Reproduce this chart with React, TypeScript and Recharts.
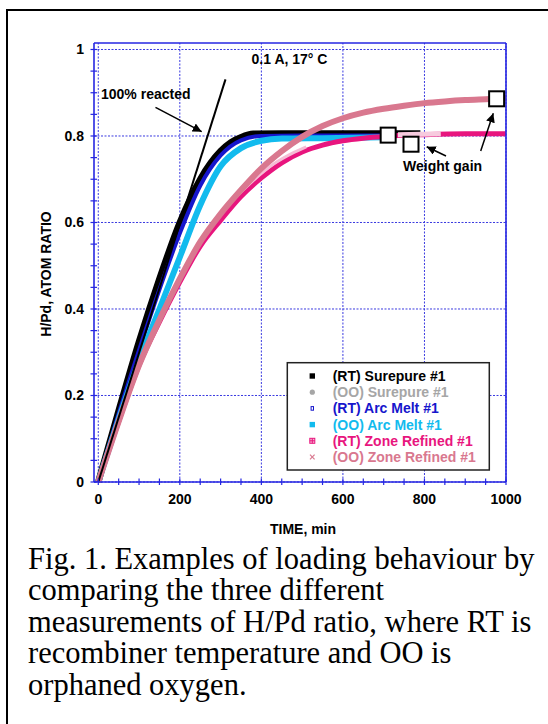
import { ComposedChart, Line, ReferenceLine, Scatter, XAxis, YAxis } from "recharts";

const AXIS = "#2626e2";
const GRID = "#3a3ae0";
const FONT = '"Liberation Sans", Arial, Helvetica, sans-serif';

// tick positions / labels
const xTicks = [0, 50, 100, 150, 200, 250, 300, 350, 400, 450, 500, 550, 600, 650, 700, 750, 800, 850, 900, 950, 1000];
const yTicks = [0, 0.05, 0.1, 0.15, 0.2, 0.25, 0.3, 0.35, 0.4, 0.45, 0.5, 0.55, 0.6, 0.65, 0.7, 0.75, 0.8, 0.85, 0.9, 0.95, 1];
const xLabels = [0, 200, 400, 600, 800, 1000];
const yLabels = [0, 0.2, 0.4, 0.6, 0.8, 1];

// TIME, min  /  H/Pd atom ratio
const rtSurepureTime = [0, 50, 100, 150, 200, 250, 300, 325, 350, 380, 450, 550, 650, 790];
const rtSurepureRatio = [0, 0.165, 0.325, 0.47, 0.6, 0.7, 0.765, 0.785, 0.797, 0.805, 0.806, 0.806, 0.806, 0.806];

const ooSurepureTime = [0, 50, 100, 150, 200, 250, 300, 350, 400, 500, 600, 700, 790];
const ooSurepureRatio = [0, 0.16, 0.315, 0.46, 0.59, 0.69, 0.758, 0.793, 0.802, 0.803, 0.803, 0.803, 0.803];

const rtArcMeltTime = [0, 50, 100, 150, 200, 250, 300, 350, 400, 500, 600, 700];
const rtArcMeltRatio = [0, 0.158, 0.305, 0.445, 0.575, 0.685, 0.755, 0.79, 0.8, 0.801, 0.801, 0.801];

const ooArcMeltTime = [0, 50, 100, 150, 200, 250, 300, 350, 400, 450, 550, 700];
const ooArcMeltRatio = [0, 0.145, 0.28, 0.4, 0.52, 0.64, 0.73, 0.772, 0.789, 0.794, 0.795, 0.797];

const rtZoneTime = [0, 50, 100, 150, 200, 250, 300, 350, 400, 450, 500, 550, 600, 650, 700, 800, 900, 1000];
const rtZoneRatio = [0, 0.14, 0.27, 0.37, 0.462, 0.545, 0.605, 0.66, 0.703, 0.738, 0.763, 0.779, 0.789, 0.795, 0.799, 0.803, 0.805, 0.805];

// lighter-looking stretches of the RT zone refined band
const rtZoneLightTime = [330, 380, 430, 480, 510];
const rtZoneLightRatio = [0.652, 0.697, 0.735, 0.762, 0.775];
const rtZoneLight2Time = [735, 790, 840];
const rtZoneLight2Ratio = [0.803, 0.804, 0.805];

const ooZoneTime = [0, 50, 100, 150, 200, 250, 300, 350, 400, 450, 500, 550, 600, 650, 700, 750, 800, 850, 900, 950, 1000];
const ooZoneRatio = [0, 0.14, 0.27, 0.375, 0.47, 0.555, 0.62, 0.675, 0.725, 0.765, 0.798, 0.823, 0.841, 0.854, 0.863, 0.87, 0.876, 0.88, 0.883, 0.885, 0.887];

const reactedTime = [0, 312];
const reactedRatio = [0, 0.931];

const weightGainTime = [711, 767, 977];
const weightGainRatio = [0.802, 0.781, 0.886];

const pts = (t: number[], r: number[]) => t.map((x, i) => ({ x, y: r[i] }));

const legendRows = [
  { label: "(RT) Surepure #1", color: "#000000", mark: "square" },
  { label: "(OO) Surepure #1", color: "#a6a6a6", mark: "circle" },
  { label: "(RT) Arc Melt #1", color: "#1616cc", mark: "hollow" },
  { label: "(OO) Arc Melt #1", color: "#12bbee", mark: "square" },
  { label: "(RT) Zone Refined #1", color: "#e8157e", mark: "grid" },
  { label: "(OO) Zone Refined #1", color: "#d9788f", mark: "cross" },
];

function BottomTick(props: any) {
  const { x, y, payload } = props;
  return (
    <g>
      <line x1={x} x2={x} y1={y - 3.5} y2={y + 3} stroke={AXIS} strokeWidth={1.2} />
      {xLabels.includes(payload.value) && (
        <text x={x} y={y + 21.5} textAnchor="middle" fontFamily={FONT} fontWeight="bold" fontSize={14} fill="#000">
          {payload.value}
        </text>
      )}
    </g>
  );
}

function TopTick(props: any) {
  const { x, y } = props;
  return <line x1={x} x2={x} y1={y - 3.5} y2={y + 3} stroke={AXIS} strokeWidth={1.2} />;
}

function LeftTick(props: any) {
  const { x, y, payload } = props;
  return (
    <g>
      <line x1={x - 3.5} x2={x + 3} y1={y} y2={y} stroke={AXIS} strokeWidth={1.2} />
      {yLabels.includes(payload.value) && (
        <text x={x - 10} y={y + 5} textAnchor="end" fontFamily={FONT} fontWeight="bold" fontSize={14} fill="#000">
          {payload.value}
        </text>
      )}
    </g>
  );
}

function RightTick(props: any) {
  const { x, y } = props;
  return <line x1={x - 3} x2={x + 3.5} y1={y} y2={y} stroke={AXIS} strokeWidth={1.2} />;
}

function WeightBox(props: any) {
  const { cx, cy } = props;
  return <rect x={cx - 7.5} y={cy - 7.5} width={15} height={15} fill="#fff" stroke="#000" strokeWidth={2} />;
}

function LegendMark({ mark, color, cx, cy }: { mark: string; color: string; cx: number; cy: number }) {
  if (mark === "circle") return <circle cx={cx} cy={cy} r={2.6} fill={color} />;
  if (mark === "hollow")
    return <rect x={cx - 1.2} y={cy - 1.8} width={2.4} height={3.6} fill="#fff" stroke={color} strokeWidth={1} />;
  if (mark === "grid")
    return (
      <g stroke={color} strokeWidth={1}>
        <rect x={cx - 2.5} y={cy - 2.5} width={5} height={5} fill="#f7b5d3" />
        <line x1={cx} x2={cx} y1={cy - 2.5} y2={cy + 2.5} />
        <line x1={cx - 2.5} x2={cx + 2.5} y1={cy} y2={cy} />
      </g>
    );
  if (mark === "cross")
    return (
      <g stroke={color} strokeWidth={1.2}>
        <line x1={cx - 2.3} x2={cx + 2.3} y1={cy - 2.3} y2={cy + 2.3} />
        <line x1={cx - 2.3} x2={cx + 2.3} y1={cy + 2.3} y2={cy - 2.3} />
      </g>
    );
  return <rect x={cx - 2.7} y={cy - 2.7} width={5.4} height={5.4} fill={color} />;
}

export default function App() {
  const bold = { fontFamily: FONT, fontWeight: "bold" as const, fontSize: 14 };
  return (
    <div style={{ position: "fixed", left: 0, top: 0, width: 548, height: 724, overflow: "hidden", background: "#fff" }}>
      <div style={{ position: "absolute", left: 6, top: 9, width: 600, height: 800, border: "2.5px solid #000" }} />
      <div style={{ position: "absolute", left: 0, top: 0 }}>
        <ComposedChart width={548} height={560} margin={{ top: 42, right: 41, bottom: 48, left: 34 }}>
          <XAxis
            dataKey="x"
            type="number"
            domain={[-10.5, 1000]}
            ticks={xTicks}
            interval={0}
            height={30}
            tickSize={0}
            tickMargin={0}
            tickLine={false}
            axisLine={{ stroke: AXIS, strokeWidth: 1.6 }}
            tick={(p: any) => <BottomTick {...p} />}
          />
          <XAxis
            xAxisId="top"
            orientation="top"
            type="number"
            domain={[-10.5, 1000]}
            ticks={xTicks}
            interval={0}
            height={1}
            tickSize={0}
            tickMargin={0}
            tickLine={false}
            axisLine={{ stroke: AXIS, strokeWidth: 1.6 }}
            tick={(p: any) => <TopTick {...p} />}
          />
          <YAxis
            type="number"
            domain={[0, 1.015]}
            ticks={yTicks}
            interval={0}
            width={60}
            tickSize={0}
            tickMargin={0}
            tickLine={false}
            axisLine={{ stroke: AXIS, strokeWidth: 1.6 }}
            tick={(p: any) => <LeftTick {...p} />}
          />
          <YAxis
            yAxisId="right"
            orientation="right"
            type="number"
            domain={[0, 1.015]}
            ticks={yTicks}
            interval={0}
            width={1}
            tickSize={0}
            tickMargin={0}
            tickLine={false}
            axisLine={{ stroke: AXIS, strokeWidth: 1.6 }}
            tick={(p: any) => <RightTick {...p} />}
          />
          {xLabels.map((v) => (
            <ReferenceLine key={"gx" + v} x={v} stroke={GRID} strokeWidth={1} strokeDasharray="2 1.5" />
          ))}
          {yLabels.map((v) => (
            <ReferenceLine key={"gy" + v} y={v} stroke={GRID} strokeWidth={1} strokeDasharray="2 1.5" />
          ))}
          <Line data={pts(ooSurepureTime, ooSurepureRatio)} dataKey="y" type="monotone" stroke="#a6a6a6" strokeWidth={4} dot={false} isAnimationActive={false} />
          <Line data={pts(rtSurepureTime, rtSurepureRatio)} dataKey="y" type="monotone" stroke="#000" strokeWidth={6.5} dot={false} isAnimationActive={false} />
          <Line data={pts(rtArcMeltTime, rtArcMeltRatio)} dataKey="y" type="monotone" stroke="#1616cc" strokeWidth={4} dot={false} isAnimationActive={false} />
          <Line data={pts(ooArcMeltTime, ooArcMeltRatio)} dataKey="y" type="monotone" stroke="#12bbee" strokeWidth={6} dot={false} isAnimationActive={false} />
          <Line data={pts(rtZoneTime, rtZoneRatio)} dataKey="y" type="monotone" stroke="#e8157e" strokeWidth={5} dot={false} isAnimationActive={false} />
          <Line data={pts(rtZoneLightTime, rtZoneLightRatio)} dataKey="y" type="monotone" stroke="#f5bcd4" strokeWidth={3} dot={false} isAnimationActive={false} />
          <Line data={pts(rtZoneLight2Time, rtZoneLight2Ratio)} dataKey="y" type="monotone" stroke="#f7cade" strokeWidth={5} dot={false} isAnimationActive={false} />
          <Line data={pts(ooZoneTime, ooZoneRatio)} dataKey="y" type="monotone" stroke="#d9788f" strokeWidth={6} dot={false} isAnimationActive={false} />
          <Line data={pts(reactedTime, reactedRatio)} dataKey="y" type="linear" stroke="#000" strokeWidth={2} dot={false} isAnimationActive={false} />
          <Scatter data={pts(weightGainTime, weightGainRatio)} dataKey="y" shape={WeightBox} isAnimationActive={false} />
        </ComposedChart>
      </div>
      <svg width={548} height={724} style={{ position: "absolute", left: 0, top: 0, pointerEvents: "none" }}>
        <defs>
          <marker id="ah" viewBox="0 0 10 10" refX="10" refY="5" markerWidth="9" markerHeight="9" markerUnits="userSpaceOnUse" orient="auto">
            <path d="M0,0 L10,5 L0,10 z" fill="#000" />
          </marker>
        </defs>
        <text x={289.5} y={64.3} textAnchor="middle" {...bold}>0.1 A, 17° C</text>
        <text x={101} y={99.3} {...bold}>100% reacted</text>
        <line x1={155.5} y1={107.3} x2={201.7} y2={131.7} stroke="#000" strokeWidth={1.5} markerEnd="url(#ah)" />
        <text x={403} y={170.7} {...bold}>Weight gain</text>
        <line x1={446} y1={156} x2={426.7} y2={146.7} stroke="#000" strokeWidth={1.5} markerEnd="url(#ah)" />
        <line x1={480.7} y1={151} x2={493.3} y2={113.3} stroke="#000" strokeWidth={1.5} markerEnd="url(#ah)" />
        <text x={0} y={0} textAnchor="middle" transform="translate(51,274) rotate(-90)" {...bold}>H/Pd, ATOM RATIO</text>
        <text x={303} y={534} textAnchor="middle" {...bold}>TIME, min</text>
        <rect x={287.3} y={362.7} width={202} height={107.3} fill="#fff" stroke="#222" strokeWidth={1.5} />
        {legendRows.map((r, i) => {
          const cy = 376 + i * 16.2;
          return (
            <g key={r.label}>
              <LegendMark mark={r.mark} color={r.color} cx={312.3} cy={cy} />
              <text x={332.7} y={cy + 5} fill={r.color} {...bold}>{r.label}</text>
            </g>
          );
        })}
      </svg>
      <div
        style={{
          position: "absolute",
          left: 28,
          top: 543.5,
          fontFamily: '"Liberation Serif", "Times New Roman", serif',
          fontSize: 30.5,
          lineHeight: "31.5px",
          whiteSpace: "nowrap",
          color: "#000",
        }}
      >
        Fig. 1. Examples of loading behaviour by
        <br />
        comparing the three different
        <br />
        measurements of H/Pd ratio, where RT is
        <br />
        recombiner temperature and OO is
        <br />
        orphaned oxygen.
      </div>
    </div>
  );
}
